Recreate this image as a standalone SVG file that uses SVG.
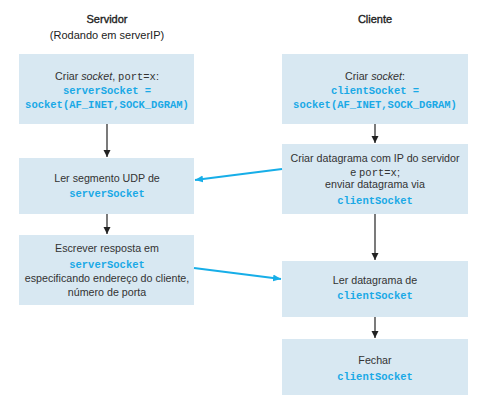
<svg xmlns="http://www.w3.org/2000/svg" width="487" height="413" viewBox="0 0 487 413">
<defs>
<style>
.box{fill:#d8e8f2}
.t{font-family:"Liberation Sans",Arial,sans-serif;font-size:10.7px;fill:#333;text-anchor:middle}
.m{font-family:"Liberation Mono","Courier New",monospace;font-size:10.5px;font-weight:bold;fill:#1aa9e6;text-anchor:middle}
.mk{font-family:"Liberation Mono","Courier New",monospace;font-size:10.5px;fill:#333}
.h{font-family:"Liberation Sans",Arial,sans-serif;font-size:11px;fill:#222;text-anchor:middle}
.hb{stroke:#222;stroke-width:0.35}
.bl{stroke:#222;stroke-width:1.2;fill:none}
.cy{stroke:#17aee8;stroke-width:2.2;fill:none}
</style>
<marker id="ab" markerWidth="8" markerHeight="8" refX="7" refY="4" orient="auto" markerUnits="userSpaceOnUse">
<path d="M0,0.5 L7,4 L0,7.5 z" fill="#222"/>
</marker>
<marker id="ac" markerWidth="9" markerHeight="8" refX="8" refY="4" orient="auto" markerUnits="userSpaceOnUse">
<path d="M0,0.5 L8,4 L0,7.5 z" fill="#17aee8"/>
</marker>
</defs>
<g id="headers">
<text class="h hb" x="107" y="23">Servidor</text>
<text class="h" x="107" y="39">(Rodando em serverIP)</text>
<text class="h hb" x="375" y="23">Cliente</text>
</g>
<g id="s1">
<rect class="box" x="19" y="54" width="175" height="70"/>
<text class="t" x="107" y="80">Criar <tspan font-style="italic">socket</tspan>, <tspan class="mk">port=x</tspan>:</text>
<text class="m" x="107" y="94">serverSocket =</text>
<text class="m" x="107" y="107.5">socket(AF_INET,SOCK_DGRAM)</text>
</g>
<g id="s2">
<rect class="box" x="19" y="158" width="175" height="56"/>
<text class="t" x="107" y="182">Ler segmento UDP de</text>
<text class="m" x="107" y="197">serverSocket</text>
</g>
<g id="s3">
<rect class="box" x="19" y="235" width="175" height="70"/>
<text class="t" x="107" y="252">Escrever resposta em</text>
<text class="m" x="107" y="268">serverSocket</text>
<text class="t" x="107" y="282">especificando endereço do cliente,</text>
<text class="t" x="107" y="296">número de porta</text>
</g>
<g id="c1">
<rect class="box" x="282" y="54" width="186" height="70"/>
<text class="t" x="375" y="80">Criar <tspan font-style="italic">socket</tspan>:</text>
<text class="m" x="375" y="94">clientSocket =</text>
<text class="m" x="375" y="107.5">socket(AF_INET,SOCK_DGRAM)</text>
</g>
<g id="c2">
<rect class="box" x="282" y="144" width="186" height="70"/>
<text class="t" x="375" y="162">Criar datagrama com IP do servidor</text>
<text class="t" x="375" y="176">e <tspan class="mk">port=x</tspan>;</text>
<text class="t" x="375" y="188">enviar datagrama via</text>
<text class="m" x="375" y="204">clientSocket</text>
</g>
<g id="c3">
<rect class="box" x="282" y="261" width="186" height="56"/>
<text class="t" x="375" y="284">Ler datagrama de</text>
<text class="m" x="375" y="299">clientSocket</text>
</g>
<g id="c4">
<rect class="box" x="282" y="339" width="186" height="56"/>
<text class="t" x="375" y="364">Fechar</text>
<text class="m" x="375" y="380">clientSocket</text>
</g>
<g id="connectors">
<line class="bl" x1="107" y1="124" x2="107" y2="157" marker-end="url(#ab)"/>
<line class="bl" x1="107" y1="214" x2="107" y2="234" marker-end="url(#ab)"/>
<line class="bl" x1="375" y1="124" x2="375" y2="143" marker-end="url(#ab)"/>
<line class="bl" x1="375" y1="214" x2="375" y2="260" marker-end="url(#ab)"/>
<line class="bl" x1="375" y1="317" x2="375" y2="338" marker-end="url(#ab)"/>
<line class="cy" x1="282" y1="169" x2="195" y2="180" marker-end="url(#ac)"/>
<line class="cy" x1="194" y1="268" x2="281" y2="279" marker-end="url(#ac)"/>
</g>
</svg>
